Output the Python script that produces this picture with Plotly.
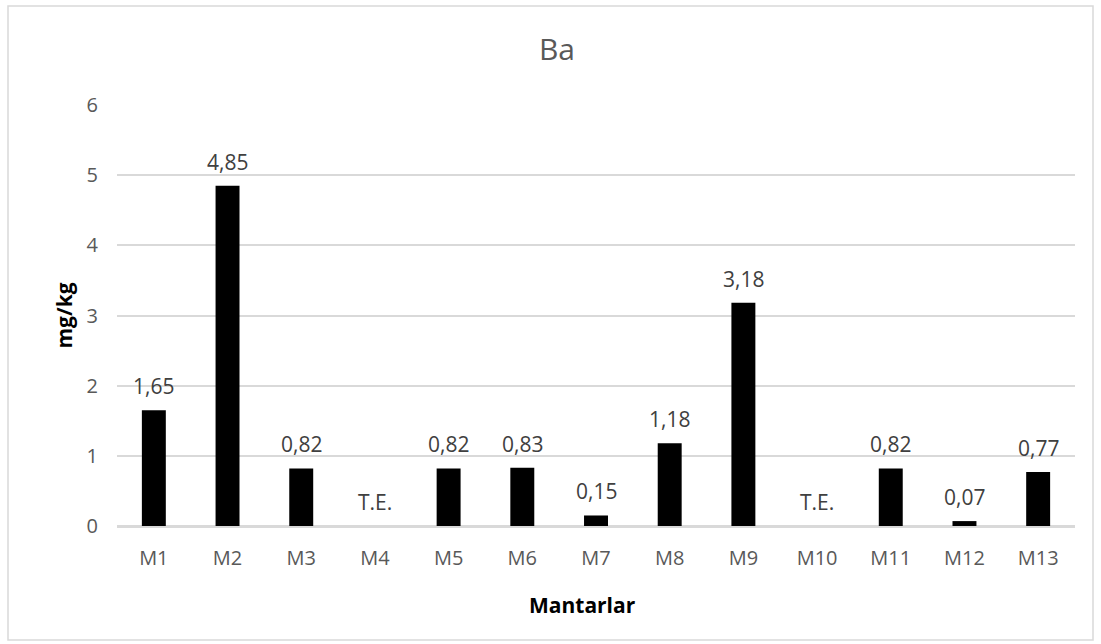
import plotly.graph_objects as go

# Ba concentration per mushroom sample (mg/kg); None = not detected (T.E.)
samples = ["M1", "M2", "M3", "M4", "M5", "M6", "M7", "M8", "M9", "M10", "M11", "M12", "M13"]
ba_values = [1.65, 4.85, 0.82, None, 0.82, 0.83, 0.15, 1.18, 3.18, None, 0.82, 0.07, 0.77]
not_detected_label = "T.E."
y_ticks = [0, 1, 2, 3, 4, 5, 6]

W, H = 1101, 644
L, R, T, B = 117, 26, 105, 118
plot_w, plot_h = W - L - R, H - T - B

FONT = "Open Sans"
GRID = "#d9d9d9"

fig = go.Figure()
fig.add_trace(go.Bar(
    x=samples,
    y=[v if v is not None else 0 for v in ba_values],
    marker=dict(color="#000000", line=dict(width=0)),
    hoverinfo="x+y",
))


def fmt(v):
    return f"{v:.2f}".replace(".", ",")


annotations = []
for s, v in zip(samples, ba_values):
    annotations.append(dict(
        x=s, y=v if v is not None else 0, xref="x", yref="y",
        text=fmt(v) if v is not None else not_detected_label,
        showarrow=False, yanchor="middle", yshift=24,
        font=dict(family=FONT, size=21, color="#404040"),
    ))

# axis titles
annotations.append(dict(
    x=(582 - L) / plot_w, y=(526 - 605) / plot_h, xref="paper", yref="paper",
    text="<b>Mantarlar</b>", showarrow=False, xanchor="center", yanchor="middle",
    font=dict(family=FONT, size=21, color="#000000"),
))
annotations.append(dict(
    x=(63 - L) / plot_w, y=0.5, xref="paper", yref="paper",
    text="<b>mg/kg</b>", showarrow=False, textangle=-90,
    xanchor="center", yanchor="middle",
    font=dict(family=FONT, size=21, color="#000000"),
))

fig.update_layout(
    width=W, height=H,
    margin=dict(l=L, r=R, t=T, b=B),
    paper_bgcolor="white", plot_bgcolor="white",
    bargap=0.675,
    showlegend=False,
    title=dict(
        text="Ba", x=557 / W, xref="container", xanchor="center",
        y=1 - 49 / H, yref="container", yanchor="middle",
        font=dict(family=FONT, size=30, color="#595959"),
    ),
    annotations=annotations,
    shapes=[dict(
        type="rect", xref="paper", yref="paper",
        x0=(8 - L) / plot_w, x1=(1093 - L) / plot_w,
        y0=(526 - 640) / plot_h, y1=(526 - 6) / plot_h,
        line=dict(color=GRID, width=1.5), fillcolor="rgba(0,0,0,0)",
        layer="below",
    )],
)

fig.update_xaxes(
    showgrid=False, showline=True, linecolor=GRID, linewidth=1.5,
    ticks="", ticklabelstandoff=13,
    tickfont=dict(family=FONT, size=20, color="#595959"),
)
fig.update_yaxes(
    range=[0, 6], tickvals=y_ticks, showgrid=True, gridcolor=GRID, gridwidth=1.5,
    zeroline=True, zerolinecolor=GRID, zerolinewidth=1.5,
    ticks="", ticklabelstandoff=18,
    tickfont=dict(family=FONT, size=20, color="#595959"),
)

fig.write_html("out.html")
